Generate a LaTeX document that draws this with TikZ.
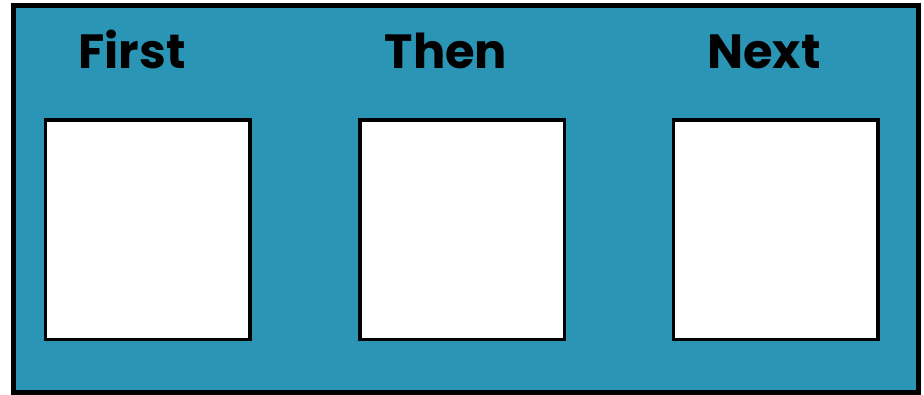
\documentclass[tikz,border=0pt]{standalone}
\usepackage{fontspec}
\newfontfamily\pop{Poppins}
\definecolor{panelblue}{RGB}{43,149,182}
\begin{document}
\begin{tikzpicture}[x=1pt,y=-1pt,
  panel/.style={draw=black,fill=panelblue,line width=5pt},
  card/.style={draw=black,fill=white,line width=3.5pt,inner sep=0pt,minimum width=204.5pt,minimum height=219.5pt},
  head/.style={anchor=base,inner sep=0pt,font=\pop\bfseries\fontsize{48}{50}\selectfont}]
\useasboundingbox (0,0) rectangle (924,394);
\draw[panel] (13.5,5.5) rectangle (918,392.5);
\node[card] (b1) at (147.75,229.75) {};
\node[card] (b2) at (462.25,229.75) {};
\node[card] (b3) at (775.5,229.75) {};
\node[head] (t1) at (132,68) {First};
\node[head] (t2) at (446,68) {Then};
\node[head] (t3) at (764,68) {Next};
\end{tikzpicture}
\end{document}
